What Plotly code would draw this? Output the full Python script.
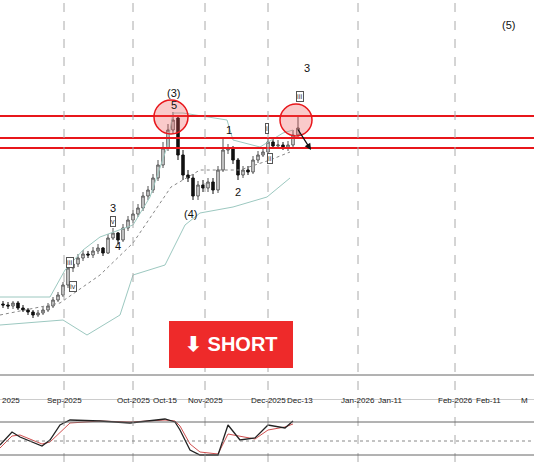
import plotly.graph_objects as go

# candle x positions (chart units) and OHLC prices
cx = [3+5*i for i in range(60)]
opens = [96,95,94,97,92,90,88,85,87,90,94,100,105,115,132,136,142,146,145,149,152,147,162,167,160,172,180,186,192,204,210,222,235,252,270,282,245,225,222,204,215,212,218,210,230,250,252,240,225,230,228,240,245,248,258,254,255,252,255,265]
highs = [99,98,99,99,95,92,90,90,93,97,103,108,118,136,140,146,150,149,153,156,153,166,172,168,176,184,190,196,208,214,226,240,258,276,288,285,250,230,226,219,220,222,222,234,262,256,254,242,234,234,244,249,252,262,262,260,258,259,270,285]
lows = [92,91,91,90,88,85,82,83,85,88,92,98,103,112,128,133,139,142,142,146,144,146,160,156,158,169,177,183,189,200,207,219,232,249,266,240,220,218,200,200,208,208,206,207,228,246,236,220,222,225,226,237,243,245,252,251,250,249,252,262]
closes = [95,94,97,92,90,88,85,87,90,94,100,105,115,132,136,142,146,145,149,152,147,162,167,160,172,180,186,192,204,210,222,235,252,270,280,245,225,222,204,215,212,218,210,230,250,252,240,225,230,228,240,245,248,258,254,255,252,255,265,272]

up_x = [0,50,65,83,100,120,133,150,167,173,183,227,233,260,283,293]
up_y = [103,103,130,150,163,170,175,203,253,287,287,280,260,253,267,270]
mid_x = [0,60,100,133,171,200,240,270,290]
mid_y = [85,97,125,157,213,230,230,240,248]
lo_x = [0,55,63,87,120,133,150,165,185,200,233,267,290]
lo_y = [75,80,80,65,85,125,130,135,175,187,193,203,222]

levels = [284, 262, 252]

osc_x = [0,12,20,35,42,50,60,70,100,130,165,175,180,190,200,218,228,240,255,268,285,293]
osc_k = [17,30,25,19,16,22,37,42,41,39,43,40,32,12,7,7,37,22,24,37,34,41]
osc_d = [14,26,27,21,18,20,30,39,41,40,42,41,36,18,10,8,28,26,23,32,35,38]

tick_pos = [0,64,133,165,205,268,300,358,390,455,488,530]
tick_txt = ["2025","Sep-2025","Oct-2025","Oct-15","Nov-2025","Dec-2025","Dec-13","Jan-2026","Jan-11","Feb-2026","Feb-11","M"]

fig = go.Figure()
fig.add_trace(go.Candlestick(x=cx, open=opens, high=highs, low=lows, close=closes,
    increasing=dict(line=dict(color="#555", width=1), fillcolor="#e8e8e8"),
    decreasing=dict(line=dict(color="#111", width=1), fillcolor="#111"),
    whiskerwidth=0, showlegend=False, xaxis="x", yaxis="y", hoverinfo="skip"))
fig.add_trace(go.Scatter(x=up_x, y=up_y, mode="lines", line=dict(color="#9cc8c0", width=1), showlegend=False))
fig.add_trace(go.Scatter(x=lo_x, y=lo_y, mode="lines", line=dict(color="#9cc8c0", width=1), showlegend=False))
fig.add_trace(go.Scatter(x=mid_x, y=mid_y, mode="lines", line=dict(color="#888", width=1, dash="dot"), showlegend=False))
fig.add_trace(go.Scatter(x=osc_x, y=osc_d, mode="lines", line=dict(color="#d05050", width=1), showlegend=False, xaxis="x2", yaxis="y2"))
fig.add_trace(go.Scatter(x=osc_x, y=osc_k, mode="lines", line=dict(color="#222", width=1.3), showlegend=False, xaxis="x2", yaxis="y2"))

shapes = []
for lv in levels:
    shapes.append(dict(type="line", xref="x", yref="y", x0=0, x1=534, y0=lv, y1=lv, line=dict(color="#e8161b", width=2)))
for p in (64,133,205,268,358,455):
    shapes.append(dict(type="line", xref="x", yref="paper", x0=p, x1=p, y0=0, y1=1, line=dict(color="#aaa", width=1, dash="dash")))
shapes += [
    dict(type="circle", xref="x", yref="y", x0=154, x1=188, y0=266, y1=300, line=dict(color="#e8161b", width=1.5), fillcolor="rgba(240,80,80,0.3)"),
    dict(type="circle", xref="x", yref="y", x0=280, x1=312, y0=264, y1=296, line=dict(color="#e8161b", width=1.5), fillcolor="rgba(240,80,80,0.3)"),
    dict(type="line", xref="x", yref="y", x0=0, x1=534, y0=25, y1=25, line=dict(color="#666", width=1)),
    dict(type="rect", xref="x", yref="y", x0=0, x1=534, y0=-2, y1=1, line=dict(width=0), fillcolor="#ccc"),
    dict(type="line", xref="x2", yref="y2", x0=0, x1=534, y0=40, y1=40, line=dict(color="#666", width=1)),
    dict(type="line", xref="x2", yref="y2", x0=0, x1=534, y0=21, y1=21, line=dict(color="#888", width=1, dash="dot")),
    dict(type="line", xref="x2", yref="y2", x0=0, x1=534, y0=7, y1=7, line=dict(color="#666", width=1)),
    dict(type="rect", xref="x", yref="y", x0=169, x1=293, y0=32, y1=79, line=dict(width=0), fillcolor="#ee2a2a"),
]

anns = [
    dict(x=311, y=250, ax=297, ay=272, axref="x", ayref="y", showarrow=True, arrowhead=2, arrowsize=1, arrowwidth=1.3, arrowcolor="#111", text=""),
    dict(x=231, y=56, text="<b>⬇ SHORT</b>", font=dict(size=20, color="white", family="Liberation Sans"), showarrow=False),
]
labels = [("(5)",508,375),("3",307,332),("(3)",173,307),("5",174,295),("1",229,270),
          ("2",238,208),("(4)",190,186),("3",113,192),("4",118,154)]
for t,x,y in labels:
    anns.append(dict(x=x, y=y, text=t, showarrow=False, font=dict(size=11, color="#111", family="Liberation Sans")))
circ = [("i",267,272),("ii",270,242),("iii",300,304),("v",113,179),("iii",70,138),("iv",73,114)]
for t,x,y in circ:
    anns.append(dict(x=x, y=y, text=t, showarrow=False, font=dict(size=7, color="#222"),
                     bordercolor="#555", borderwidth=1, borderpad=0, bgcolor="white"))
for p,t in zip(tick_pos, tick_txt):
    anns.append(dict(x=p, y=(462-407)/462, yref="paper", text=t, showarrow=False,
                     xanchor="left" if p == 0 else ("right" if p > 520 else "center"),
                     font=dict(size=8, color="#222", family="Liberation Sans")))

fig.update_layout(
    width=534, height=462, margin=dict(l=0, r=0, t=0, b=0),
    paper_bgcolor="white", plot_bgcolor="white", shapes=shapes, annotations=anns,
    xaxis=dict(range=[0,534], domain=[0,1], showgrid=False, zeroline=False, showticklabels=False, rangeslider=dict(visible=False), fixedrange=True),
    yaxis=dict(range=[0,400], domain=[62/462,1], showgrid=False, zeroline=False, showticklabels=False),
    xaxis2=dict(range=[0,534], domain=[0,1], anchor="y2", showgrid=False, zeroline=False, showticklabels=False),
    yaxis2=dict(range=[0,44], domain=[0,44/462], anchor="x2", showgrid=False, zeroline=False, showticklabels=False),
)
fig.write_html("out.html", config={"displayModeBar": False})
with open("out.html", encoding="utf-8") as f:
    html = f.read()
html = html.replace("<head>", "<head><style>html,body{margin:0;padding:0;overflow:hidden}</style>", 1)
with open("out.html", "w", encoding="utf-8") as f:
    f.write(html)
